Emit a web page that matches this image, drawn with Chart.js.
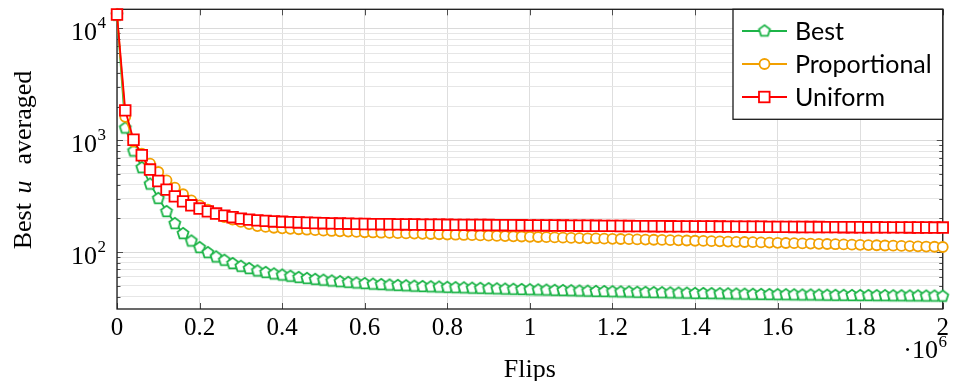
<!DOCTYPE html>
<html>
<head>
<meta charset="utf-8">
<script src="https://cdn.jsdelivr.net/npm/chart.js@4.4.1/dist/chart.umd.min.js"></script>
<style>
html, body { margin: 0; padding: 0; background: #fff; }
</style>
</head>
<body>
<canvas id="flipsChart" width="953" height="381"></canvas>
<script>
// flips (x), one sample every 20000
const flips = [
  0, 20000, 40000, 60000, 80000, 100000, 120000, 140000, 160000, 180000,
  200000, 220000, 240000, 260000, 280000, 300000, 320000, 340000, 360000, 380000,
  400000, 420000, 440000, 460000, 480000, 500000, 520000, 540000, 560000, 580000,
  600000, 620000, 640000, 660000, 680000, 700000, 720000, 740000, 760000, 780000,
  800000, 820000, 840000, 860000, 880000, 900000, 920000, 940000, 960000, 980000,
  1000000, 1020000, 1040000, 1060000, 1080000, 1100000, 1120000, 1140000, 1160000, 1180000,
  1200000, 1220000, 1240000, 1260000, 1280000, 1300000, 1320000, 1340000, 1360000, 1380000,
  1400000, 1420000, 1440000, 1460000, 1480000, 1500000, 1520000, 1540000, 1560000, 1580000,
  1600000, 1620000, 1640000, 1660000, 1680000, 1700000, 1720000, 1740000, 1760000, 1780000,
  1800000, 1820000, 1840000, 1860000, 1880000, 1900000, 1920000, 1940000, 1960000, 1980000,
  2000000
];

const best = [
  13300, 1300, 810, 575, 410, 305, 233, 182, 148, 127,
  111, 100, 91.5, 85.5, 80, 75.5, 72, 68.6, 66.5, 64.5,
  63, 61.5, 60, 58.8, 57.7, 56.7, 55.8, 55, 54.2, 53.5,
  52.9, 52.3, 51.8, 51.3, 50.9, 50.5, 50.1, 49.8, 49.5, 49.2,
  48.9, 48.6, 48.4, 48.1, 47.9, 47.6, 47.4, 47.2, 47.0, 46.8,
  46.6, 46.4, 46.2, 46.0, 45.8, 45.6, 45.4, 45.2, 45.0, 44.9,
  44.7, 44.5, 44.4, 44.2, 44.1, 43.9, 43.8, 43.6, 43.5, 43.4,
  43.2, 43.1, 43.0, 42.9, 42.8, 42.6, 42.5, 42.4, 42.3, 42.2,
  42.1, 42.0, 41.9, 41.8, 41.8, 41.7, 41.6, 41.5, 41.5, 41.4,
  41.3, 41.3, 41.2, 41.2, 41.1, 41.1, 41.0, 41.0, 40.9, 40.9,
  40.8
];

const proportional = [
  13300, 1620, 970, 760, 618, 520, 438, 377, 329, 290,
  262, 240, 221, 206, 195, 186, 178, 171, 168, 165,
  163, 161.5, 160, 158.5, 157, 155.5, 154.5, 153.5, 152.5, 151.5,
  150.5, 149.8, 149, 148.3, 147.6, 147, 146.4, 145.8, 145.1, 144.4,
  143.7, 143, 142.3, 141.6, 140.9, 140.2, 139.6, 139, 138.4, 137.8,
  137.1, 136.5, 135.9, 135.2, 134.6, 134, 133.4, 132.9, 132.4, 131.9,
  131.4, 130.9, 130.4, 129.9, 129.4, 128.9, 128.4, 127.9, 127.4, 126.9,
  126.3, 125.8, 125.2, 124.7, 124.2, 123.6, 123.1, 122.6, 122.1, 121.6,
  121.1, 120.6, 120.1, 119.6, 119.1, 118.6, 118.1, 117.6, 117.1, 116.6,
  116.1, 115.6, 115.1, 114.6, 114.1, 113.6, 113.1, 112.6, 112.1, 111.6,
  111.1
];

const uniform = [
  13300, 1850, 1010, 734, 547, 432, 362, 315, 284, 262,
  245, 231, 221, 212, 205, 199, 195, 192, 190, 188,
  186.5, 185.2, 184, 183, 182.1, 181.3, 180.6, 180, 179.4, 178.9,
  178.4, 178, 177.6, 177.3, 177, 176.7, 176.4, 176.1, 175.8, 175.6,
  175.4, 175.2, 175, 174.8, 174.6, 174.4, 174.2, 174, 173.8, 173.6,
  173.4, 173.2, 173, 172.8, 172.6, 172.4, 172.2, 172, 171.8, 171.6,
  171.4, 171.2, 171, 170.8, 170.6, 170.5, 170.3, 170.1, 169.9, 169.8,
  169.6, 169.4, 169.3, 169.1, 169, 168.8, 168.7, 168.5, 168.4, 168.2,
  168.1, 167.9, 167.8, 167.7, 167.5, 167.4, 167.3, 167.1, 167, 166.9,
  166.8, 166.6, 166.5, 166.4, 166.3, 166.2, 166.1, 166, 165.9, 165.8,
  165.7
];

const xTickLabels = ['0', '0.2', '0.4', '0.6', '0.8', '1', '1.2', '1.4', '1.6', '1.8', '2'];
const yTickExponents = ['2', '3', '4'];

const GREEN = '#1db448';
const ORANGE = '#f2a000';
const RED = '#ff0000';
const SERIF = '"Liberation Serif", "DejaVu Serif", serif';
const SANS = 'Lato, "Open Sans", sans-serif';

// pgfplots style pentagon mark
function pentagon(color) {
  const c = document.createElement('canvas');
  c.width = 16; c.height = 16;
  const g = c.getContext('2d');
  g.beginPath();
  for (let k = 0; k < 5; k++) {
    const a = -Math.PI / 2 + k * 2 * Math.PI / 5;
    const px = 8 + 5.8 * Math.cos(a), py = 8.6 + 5.8 * Math.sin(a);
    if (k) g.lineTo(px, py); else g.moveTo(px, py);
  }
  g.closePath();
  g.fillStyle = '#fff'; g.fill();
  g.lineWidth = 1.8; g.strokeStyle = color; g.stroke();
  return c;
}
const pentaMark = pentagon(GREEN);

function isNice(v) {
  const s = v / Math.pow(10, Math.floor(Math.log10(v) + 1e-9));
  return Math.abs(s - Math.round(s)) < 1e-6;
}
function isDecade(v) {
  const l = Math.log10(v);
  return Math.abs(l - Math.round(l)) < 1e-6;
}

const decor = {
  id: 'decor',
  beforeDatasetsDraw(chart) {
    const { ctx, chartArea: a, scales: { x, y } } = chart;
    ctx.save();
    ctx.strokeStyle = '#4d4d4d';
    ctx.lineWidth = 1;
    ctx.beginPath();
    x.ticks.forEach(t => {
      const px = Math.round(x.getPixelForValue(t.value)) + 0.5;
      ctx.moveTo(px, a.bottom); ctx.lineTo(px, a.bottom - 6);
      ctx.moveTo(px, a.top); ctx.lineTo(px, a.top + 6);
    });
    y.ticks.forEach(t => {
      if (!isNice(t.value)) return;
      const len = isDecade(t.value) ? 6 : 3.5;
      const py = Math.round(y.getPixelForValue(t.value)) + 0.5;
      ctx.moveTo(a.left, py); ctx.lineTo(a.left + len, py);
      ctx.moveTo(a.right, py); ctx.lineTo(a.right - len, py);
    });
    ctx.stroke();
    ctx.strokeStyle = '#1a1a1a';
    ctx.lineWidth = 1.3;
    ctx.strokeRect(a.left, a.top, a.right - a.left, a.bottom - a.top);
    ctx.restore();
  },
  afterDatasetsDraw(chart) {
    const { ctx, chartArea: a, scales: { y } } = chart;
    ctx.save();
    ctx.fillStyle = '#000';

    // y tick labels 10^k
    yTickExponents.forEach(e => {
      const py = y.getPixelForValue(Math.pow(10, Number(e)));
      ctx.textAlign = 'right';
      ctx.textBaseline = 'alphabetic';
      ctx.font = '17px ' + SERIF;
      const ew = ctx.measureText(e).width;
      ctx.fillText(e, 106, py + 0);
      ctx.font = '26px ' + SERIF;
      ctx.fillText('10', 106 - ew - 0.5, py + 12);
    });

    // x axis title and multiplier
    ctx.textAlign = 'center';
    ctx.textBaseline = 'alphabetic';
    ctx.font = '26px ' + SERIF;
    ctx.fillText('Flips', (a.left + a.right) / 2, 377);
    ctx.font = '17px ' + SERIF;
    const w6 = ctx.measureText('6').width;
    ctx.textAlign = 'left';
    ctx.fillText('6', 947 - w6, 347);
    ctx.font = '26px ' + SERIF;
    ctx.textAlign = 'right';
    ctx.fillText('\u00b710', 947 - w6 - 0.5, 358);

    // y axis title
    ctx.save();
    ctx.translate(31, 160);
    ctx.rotate(-Math.PI / 2);
    ctx.font = '26px ' + SERIF;
    const p1 = 'Best ', p3 = '  averaged';
    const w1 = ctx.measureText(p1).width;
    const w3 = ctx.measureText(p3).width;
    ctx.font = 'italic 26px ' + SERIF;
    const w2 = ctx.measureText('u').width;
    const sx = -(w1 + w2 + w3 + 6) / 2;
    ctx.textAlign = 'left';
    ctx.font = '26px ' + SERIF;
    ctx.fillText(p1, sx, 0);
    ctx.font = 'italic 26px ' + SERIF;
    ctx.fillText('u', sx + w1 + 3, 0);
    ctx.font = '26px ' + SERIF;
    ctx.fillText(p3, sx + w1 + w2 + 6, 0);
    ctx.restore();

    // legend
    const lx = 733, ly = a.top, lw = a.right - lx, lh = 110;
    ctx.fillStyle = '#fff';
    ctx.fillRect(lx, ly, lw, lh);
    ctx.strokeStyle = '#1a1a1a';
    ctx.lineWidth = 1.3;
    ctx.strokeRect(lx, ly, lw, lh);
    const rows = [31, 64, 97];
    chart.data.datasets.forEach((ds, i) => {
      const cy = rows[i];
      ctx.strokeStyle = ds.borderColor;
      ctx.lineWidth = 1.8;
      ctx.beginPath(); ctx.moveTo(742, cy); ctx.lineTo(787, cy); ctx.stroke();
      if (ds.pointStyle === 'circle') {
        ctx.beginPath(); ctx.arc(764.5, cy, 5, 0, Math.PI * 2);
        ctx.fillStyle = '#fff'; ctx.fill(); ctx.stroke();
      } else if (ds.pointStyle === 'rect') {
        ctx.fillStyle = '#fff';
        ctx.fillRect(759, cy - 5.3, 10.6, 10.6);
        ctx.strokeRect(759, cy - 5.3, 10.6, 10.6);
      } else {
        ctx.drawImage(pentaMark, 756.5, cy - 8.6);
      }
      ctx.fillStyle = '#000';
      ctx.font = '25px ' + SANS;
      ctx.textAlign = 'left';
      ctx.textBaseline = 'middle';
      ctx.fillText(ds.label, 795, cy + 1);
    });
    ctx.restore();
  }
};

const toPoints = arr => flips.map((f, i) => ({ x: f, y: arr[i] }));

new Chart(document.getElementById('flipsChart'), {
  type: 'line',
  data: {
    datasets: [
      {
        label: 'Best', data: toPoints(best), order: 3,
        borderColor: GREEN, borderWidth: 1.8, pointStyle: pentaMark,
        pointRadius: 6, clip: false
      },
      {
        label: 'Proportional', data: toPoints(proportional), order: 2,
        borderColor: ORANGE, borderWidth: 1.8, pointStyle: 'circle',
        pointRadius: 5, pointBorderWidth: 1.8, pointBackgroundColor: '#fff', clip: false
      },
      {
        label: 'Uniform', data: toPoints(uniform), order: 1,
        borderColor: RED, borderWidth: 1.8, pointStyle: 'rect',
        pointRadius: 7.5, pointBorderWidth: 1.8, pointBackgroundColor: '#fff', clip: false
      }
    ]
  },
  options: {
    responsive: false,
    devicePixelRatio: 1,
    animation: false,
    layout: { padding: { top: 8, right: 8, left: 0, bottom: 0 } },
    plugins: { legend: { display: false }, tooltip: { enabled: false } },
    scales: {
      x: {
        type: 'linear', min: 0, max: 2000000,
        afterFit: s => { s.height = 72; },
        border: { display: false },
        grid: { color: '#dedede', lineWidth: 1, drawTicks: false },
        ticks: {
          stepSize: 200000, autoSkip: false, maxRotation: 0, padding: 4,
          color: '#000', font: { family: SERIF, size: 25 },
          callback: (v, i) => xTickLabels[i]
        }
      },
      y: {
        type: 'logarithmic', min: 31, max: 14800,
        afterFit: s => { s.width = 117; },
        border: { display: false },
        grid: {
          drawTicks: false, lineWidth: 1,
          color: c => {
            const v = c.tick && c.tick.value;
            if (!v || !isNice(v)) return 'rgba(0,0,0,0)';
            return isDecade(v) ? '#dadada' : '#e6e6e6';
          }
        },
        ticks: { display: false, autoSkip: false }
      }
    }
  },
  plugins: [decor]
});
</script>
</body>
</html>
